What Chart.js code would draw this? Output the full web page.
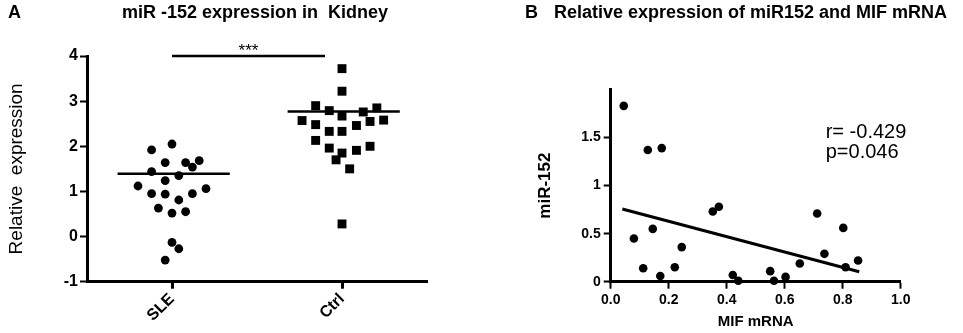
<!DOCTYPE html>
<html>
<head>
<meta charset="utf-8">
<title>miR-152 in kidney</title>
<script src="https://cdn.jsdelivr.net/npm/chart.js@4.4.1/dist/chart.umd.min.js"></script>
<style>
    html, body { margin: 0; padding: 0; background: #fff; }
    #wrap { position: relative; width: 963px; height: 333px; overflow: hidden; }
    #chartA { position: absolute; left: 0; top: 0; }
    #chartB { position: absolute; left: 480px; top: 0; }
</style>
</head>
<body>
<div id="wrap">
    <canvas id="chartA" width="480" height="333"></canvas>
    <canvas id="chartB" width="483" height="333"></canvas>
</div>
<script>
// ---- Panel A data (dot plot) ----
const titleA = 'miR -152 expression in  Kidney';
const groups = ['SLE', 'Ctrl'];
const sleValues = [2.05, 1.92, 1.64, 1.64, 1.68, 1.54, 1.44, 1.35, 1.24, 1.12, 1.06,
                   0.95, 0.94, 0.95, 0.81, 0.63, 0.55, 0.52, -0.13, -0.27, -0.52];
// horizontal spread of each dot inside its column
const sleSpread = [0, -0.12, -0.04, 0.08, 0.16, 0.12, -0.12, 0.04, -0.04, -0.2, 0.2,
                   -0.12, -0.04, 0.12, 0.04, -0.08, 0.08, 0, 0, 0.04, -0.04];
const ctrlValues = [3.72, 3.22, 2.90, 2.79, 2.67, 2.76, 2.85, 2.57, 2.48, 2.55, 2.58,
                    2.46, 2.33, 2.33, 2.13, 1.96, 2.00, 1.91, 1.85, 1.70, 1.50, 0.28];
const ctrlSpread = [0, 0, -0.155, -0.075, 0, 0.125, 0.205, -0.235, -0.155, 0.165, 0.245,
                    0.085, -0.075, 0, -0.155, -0.075, 0.165, 0.085, 0, -0.035, 0.045, 0];
const groupLines = [1.39, 2.77];      // horizontal bar in each column
const sigBar = [0, 0.9];              // bracket between the columns
const sigLevel = 4;
const sigMark = '***';
const yTicksA = [-1, 0, 1, 2, 3, 4];

// ---- Panel B data (correlation) ----
const titleB = 'Relative expression of miR152 and MIF mRNA';
const mifValues = [0.045, 0.128, 0.176, 0.080, 0.145, 0.112, 0.171, 0.221, 0.245, 0.352, 0.373,
                   0.421, 0.440, 0.550, 0.563, 0.603, 0.652, 0.712, 0.737, 0.802, 0.810, 0.853];
const mirValues = [1.83, 1.37, 1.39, 0.45, 0.55, 0.14, 0.06, 0.15, 0.36, 0.73, 0.78,
                   0.07, 0.01, 0.11, 0.01, 0.05, 0.19, 0.71, 0.29, 0.56, 0.15, 0.22];
const fitX = [0.04, 0.857];
const fitY = [0.757, 0.104];
const xTicksB = [0, 0.2, 0.4, 0.6, 0.8, 1.0];
const yTicksB = [0, 0.5, 1, 1.5];
const statsLines = ['r= -0.429', 'p=0.046'];

const FONT = "'Liberation Sans', Arial, Helvetica, sans-serif";
Chart.defaults.font.family = FONT;
Chart.defaults.color = '#000';
Chart.defaults.animation = false;

// black axis with outward ticks, no grid inside the plot
function axisStyle(tickWidth) {
    return {
        grid: { drawOnChartArea: false, drawTicks: true, tickLength: 7, tickWidth: tickWidth, tickColor: '#000' },
        border: { display: true, color: '#000', width: 3 }
    };
}

// Text for panel A: letter, title and the stars over the bracket
const panelAText = {
    id: 'panelAText',
    afterDraw(chart) {
        const { ctx, scales: { x, y } } = chart;
        ctx.save();
        ctx.fillStyle = '#000';
        ctx.textBaseline = 'middle';
        ctx.font = 'bold 18px ' + FONT;
        ctx.textAlign = 'left';
        ctx.fillText('A', 8, 13);
        ctx.textAlign = 'center';
        ctx.fillText(titleA, 255, 13);
        ctx.font = '17px ' + FONT;
        ctx.fillText(sigMark, x.getPixelForValue((sigBar[0] + sigBar[1]) / 2), y.getPixelForValue(sigLevel) - 5);
        ctx.restore();
    }
};

// Text for panel B: letter, title and the r / p values
const panelBText = {
    id: 'panelBText',
    afterDraw(chart) {
        const { ctx, chartArea } = chart;
        ctx.save();
        ctx.fillStyle = '#000';
        ctx.textBaseline = 'middle';
        ctx.font = 'bold 18px ' + FONT;
        ctx.textAlign = 'left';
        ctx.fillText('B', 45, 13);
        ctx.fillText(titleB, 74, 13);
        ctx.font = '20px ' + FONT;
        statsLines.forEach((line, i) => {
            ctx.fillText(line, chartArea.right - 75, 132 + i * 20.5);
        });
        ctx.restore();
    }
};

// Panel A chart
new Chart(document.getElementById('chartA'), {
    type: 'scatter',
    data: {
        datasets: [
            {
                data: sleValues.map((v, i) => ({ x: 0 + sleSpread[i], y: v })),
                pointStyle: 'circle', pointRadius: 4.4, backgroundColor: '#000', borderWidth: 0, clip: false
            },
            {
                data: ctrlValues.map((v, i) => ({ x: 1 + ctrlSpread[i], y: v })),
                pointStyle: 'rect', pointRadius: 6.3, backgroundColor: '#000', borderWidth: 0, clip: false
            },
            {
                data: [{ x: -0.32, y: groupLines[0] }, { x: 0.34, y: groupLines[0] }],
                showLine: true, borderColor: '#000', borderWidth: 2.5, pointRadius: 0, borderCapStyle: 'butt'
            },
            {
                data: [{ x: 1 - 0.32, y: groupLines[1] }, { x: 1 + 0.34, y: groupLines[1] }],
                showLine: true, borderColor: '#000', borderWidth: 2.5, pointRadius: 0, borderCapStyle: 'butt'
            },
            {
                data: [{ x: sigBar[0], y: sigLevel }, { x: sigBar[1], y: sigLevel }],
                showLine: true, borderColor: '#000', borderWidth: 2.5, pointRadius: 0, clip: false, borderCapStyle: 'butt'
            }
        ]
    },
    options: {
        responsive: false,
        layout: { padding: { left: 0, right: 53, top: 56, bottom: 0 } },
        plugins: { legend: { display: false }, tooltip: { enabled: false } },
        scales: {
            x: {
                type: 'linear', min: -0.5, max: 1.5,
                afterBuildTicks: s => { s.ticks = groups.map((g, i) => ({ value: i })); },
                afterFit: s => { s.height = 51.3; },
                ticks: {
                    callback: v => groups[v],
                    font: { size: 16, weight: 'bold' },
                    minRotation: 45, maxRotation: 45, padding: 1
                },
                ...axisStyle(3)
            },
            y: {
                min: -1, max: 4,
                afterBuildTicks: s => { s.ticks = yTicksA.map(v => ({ value: v })); },
                afterFit: s => { s.width = 87; },
                ticks: { font: { size: 16, weight: 'bold' }, padding: 2 },
                title: { display: true, text: 'Relative  expression', font: { size: 19 }, padding: { top: 5, bottom: 0 } },
                ...axisStyle(2)
            }
        }
    },
    plugins: [panelAText]
});

// Panel B chart
new Chart(document.getElementById('chartB'), {
    type: 'scatter',
    data: {
        datasets: [
            {
                data: mifValues.map((v, i) => ({ x: v, y: mirValues[i] })),
                pointStyle: 'circle', pointRadius: 4.3, backgroundColor: '#000', borderWidth: 0, clip: false
            },
            {
                data: fitX.map((v, i) => ({ x: v, y: fitY[i] })),
                showLine: true, borderColor: '#000', borderWidth: 3, pointRadius: 0, borderCapStyle: 'butt'
            }
        ]
    },
    options: {
        responsive: false,
        layout: { padding: { left: 0, right: 62.3, top: 89.5, bottom: 0 } },
        plugins: { legend: { display: false }, tooltip: { enabled: false } },
        scales: {
            x: {
                type: 'linear', min: 0, max: 1,
                afterBuildTicks: s => { s.ticks = xTicksB.map(v => ({ value: v })); },
                afterFit: s => { s.height = 51.3; },
                ticks: { callback: v => v.toFixed(1), font: { size: 14, weight: 'bold' }, padding: 3, maxRotation: 0 },
                title: { display: true, text: 'MIF mRNA', font: { size: 15, weight: 'bold' }, padding: { top: 0, bottom: 2 } },
                ...axisStyle(2)
            },
            y: {
                min: 0, max: 2,
                afterBuildTicks: s => { s.ticks = yTicksB.map(v => ({ value: v })); },
                afterFit: s => { s.width = 130.7; },
                ticks: { callback: v => String(v), font: { size: 14, weight: 'bold' }, padding: 3 },
                title: { display: true, text: 'miR-152', font: { size: 17, weight: 'bold' }, padding: { top: 55, bottom: 0 } },
                ...axisStyle(2)
            }
        }
    },
    plugins: [panelBText]
});
</script>
</body>
</html>
